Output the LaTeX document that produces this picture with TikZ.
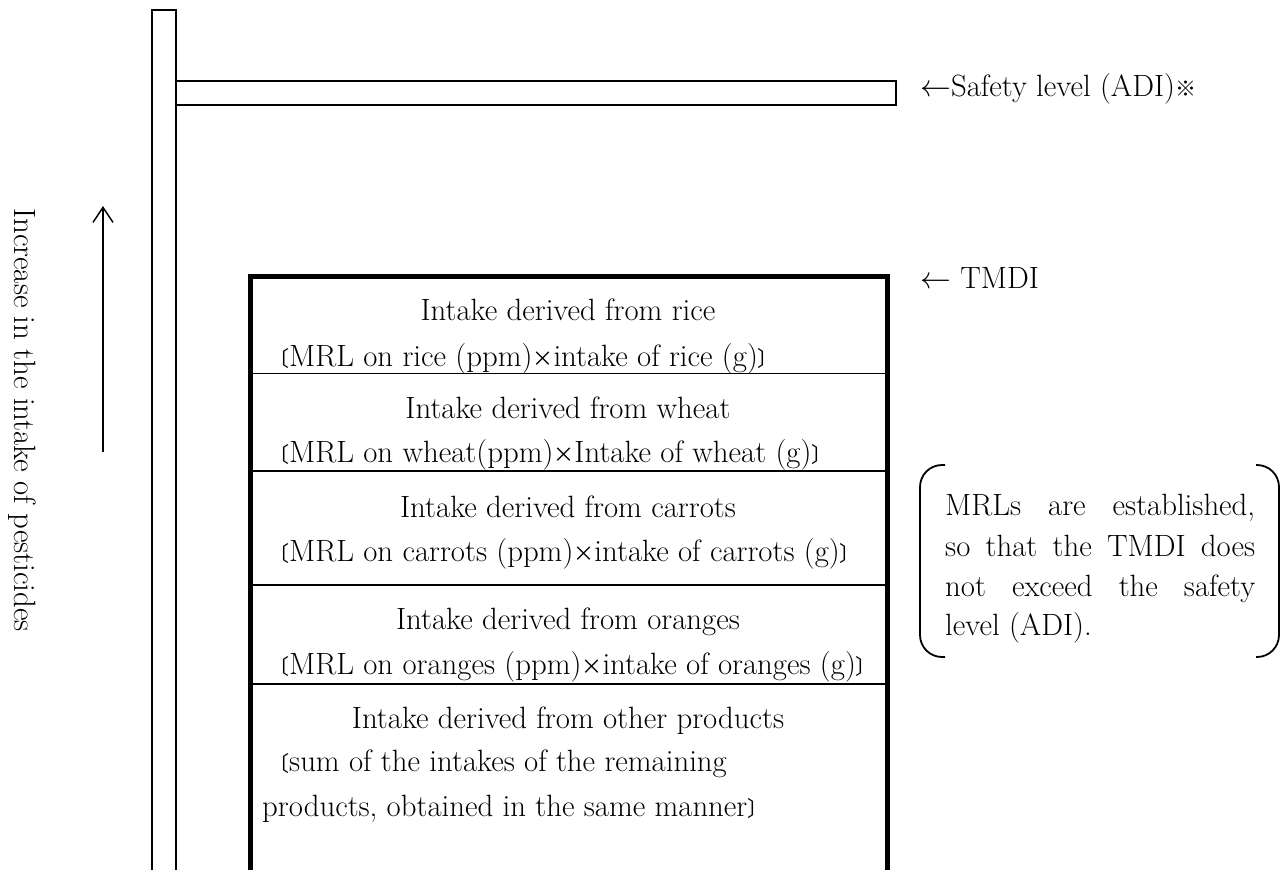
\documentclass[tikz,border=0pt]{standalone}
\usepackage{fix-cm}
\usepackage{fontspec}
\newfontfamily\cjkfont{Noto Sans CJK JP}
\usetikzlibrary{arrows.meta}
\newcommand{\mylb}{{\cjkfont\fontsize{21}{21}\selectfont 〔}}
\newcommand{\myrb}{{\cjkfont\fontsize{21}{21}\selectfont 〕}}
\newcommand{\mytimes}{{\cjkfont\fontsize{21}{21}\selectfont ×}}
\newcommand{\mykome}{{\cjkfont\fontsize{21}{21}\selectfont ※}}
\begin{document}
\begin{tikzpicture}[x=1pt,y=-1pt,
  txt/.style={inner sep=0pt, font=\fontsize{30.8}{36}\selectfont},
  sidetxt/.style={inner sep=0pt, font=\fontsize{30.8}{36}\selectfont},
  frame/.style={line width=1.6pt, draw=black},
  tmdibox/.style={line width=5pt, draw=black},
  bracket/.style={line width=1.8pt, draw=black, rounded corners=22pt},
  uparrow/.style={line width=1.5pt, -{Straight Barb[length=15pt,width=20pt]}}]
\useasboundingbox (0,0) rectangle (1287,870);

% vertical bar and ADI bar
\draw[frame] (152,870) -- (152,10) -- (176,10) -- (176,870);
\draw[frame] (176,81) -- (896,81) -- (896,105) -- (176,105);

% TMDI box
\draw[tmdibox] (250,870) -- (250,276) -- (887,276) -- (887,870);
\draw[frame] (250,373.5) -- (887,373.5);
\draw[frame] (250,471) -- (887,471);
\draw[frame] (250,585) -- (887,585);
\draw[frame] (250,684) -- (887,684);

% labels at right
\node[txt, anchor=base west] (adi) at (920,96.7) {$\leftarrow$Safety level (ADI)\mykome};
\node[txt, anchor=base west] (tmdi) at (920,288) {$\leftarrow$\ TMDI};

% arrow and rotated label
\coordinate (arrtail) at (103,452);
\coordinate (arrhead) at (103,206);
\draw[uparrow] (arrtail) -- (arrhead);
\node[sidetxt, rotate=-90, anchor=base west] (incr) at (14,208) {Increase in the intake of pesticides};

% rows
\node[txt, anchor=base] (t1) at (568,320.7) {Intake derived from rice};
\node[txt, anchor=base west] (f1) at (268,366) {\mylb MRL on rice (ppm)\mytimes intake of rice (g)\myrb};
\node[txt, anchor=base] (t2) at (568,418) {Intake derived from wheat};
\node[txt, anchor=base west] (f2) at (268,462.7) {\mylb MRL on wheat(ppm)\mytimes Intake of wheat (g)\myrb};
\node[txt, anchor=base] (t3) at (568,517.8) {Intake derived from carrots};
\node[txt, anchor=base west] (f3) at (268,561) {\mylb MRL on carrots (ppm)\mytimes intake of carrots (g)\myrb};
\node[txt, anchor=base] (t4) at (568,629.8) {Intake derived from oranges};
\node[txt, anchor=base west] (f4) at (268,674.6) {\mylb MRL on oranges (ppm)\mytimes intake of oranges (g)\myrb};
\node[txt, anchor=base] (t5) at (568,728) {Intake derived from other products};
\node[txt, anchor=base west] (f5) at (268,771) {\mylb sum of the intakes of the remaining};
\node[txt, anchor=base west] (f6) at (262,816) {products, obtained in the same manner\myrb};

% note in brackets
\draw[bracket] (945,465) -- (920,465) -- (920,657) -- (945,657);
\draw[bracket] (1256,465) -- (1279,465) -- (1279,657) -- (1256,657);
\node[txt, anchor=base west] (n1) at (945,515) {\hbox to 310pt{MRLs\hfill are\hfill established,}};
\node[txt, anchor=base west] (n2) at (945,556) {\hbox to 310pt{so\hfill that\hfill the\hfill TMDI\hfill does}};
\node[txt, anchor=base west] (n3) at (945,596) {\hbox to 310pt{not\hfill exceed\hfill the\hfill safety}};
\node[txt, anchor=base west] (n4) at (945,635) {level (ADI).};
\end{tikzpicture}
\end{document}
